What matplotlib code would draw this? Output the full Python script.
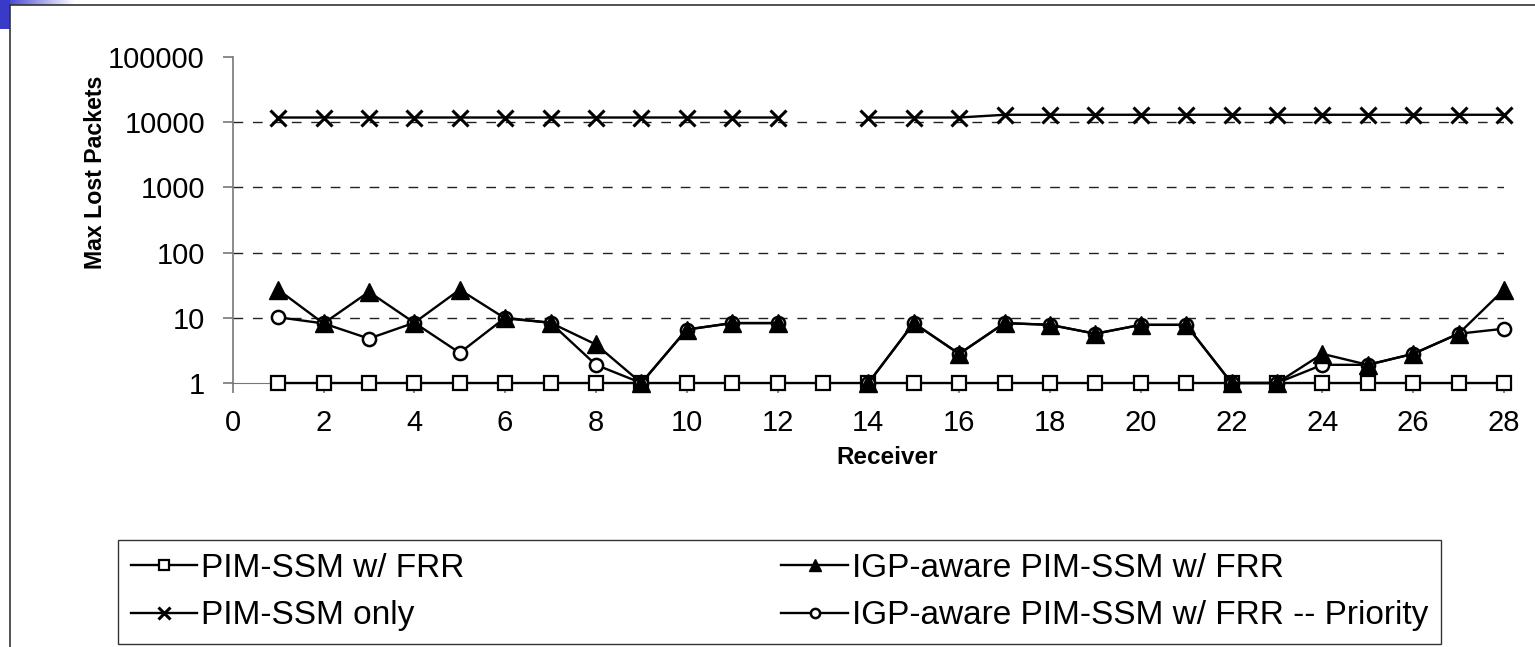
import numpy as np
import matplotlib.pyplot as plt
from matplotlib.patches import Rectangle
from matplotlib.colors import LinearSegmentedColormap

plt.rcParams['font.family'] = ['Liberation Sans', 'DejaVu Sans']

# data (receivers 1..28, 13 has no reading except FRR)
receivers = np.arange(1, 29)
nan = np.nan
pim_frr = [1] * 28
pim_only = [11800] * 12 + [nan] + [11800] * 3 + [13000] * 12
igp_frr = [27, 8.2, 25, 8.4, 27, 9.8, 8.4, 3.9, 1, 6.6, 8.3, 8.3, nan, 1,
           8.3, 2.8, 8.3, 7.8, 5.7, 7.8, 7.8, 1, 1, 2.8, 1.9, 2.8, 5.7, 27]
igp_prio = [10.2, 8.2, 4.8, 8.4, 2.9, 10, 8.4, 1.9, 1, 6.6, 8.3, 8.3, nan, 1,
            8.3, 2.8, 8.3, 7.8, 5.7, 7.8, 7.8, 1, 1, 1.9, 1.9, 2.8, 5.7, 6.8]
y_ticks = [1, 10, 100, 1000, 10000, 100000]
x_ticks = list(range(0, 29, 2))

W, H = 1535, 647
fig = plt.figure(figsize=(W / 100, H / 100), dpi=100)

# slide decoration: border and blue corner
fig.add_artist(plt.Line2D([10 / W, 10 / W], [0, 1 - 5 / H], transform=fig.transFigure, color='#333333', lw=1.2))
fig.add_artist(plt.Line2D([10 / W, 1], [1 - 5 / H, 1 - 5 / H], transform=fig.transFigure, color='#333333', lw=1.2))
grad = fig.add_axes([0, 1 - 5 / H, 75 / W, 5 / H])
grad.imshow(np.linspace(0, 1, 100)[None, :], cmap=LinearSegmentedColormap.from_list('g', ['#3333cc', '#ffffff']),
            aspect='auto')
grad.axis('off')
fig.add_artist(Rectangle((0, 1 - 29 / H), 10 / W, 29 / H, transform=fig.transFigure, color='#3a3ac8', lw=0))

ax = fig.add_axes([232.7 / W, (H - 383) / H, (1504 - 232.7) / W, (383 - 57) / H])

l1, = ax.plot(receivers, pim_frr, color='black', lw=1.7, marker='s', ms=10, mfc='white', mec='black', mew=1.6,
              label='PIM-SSM w/ FRR', zorder=3, clip_on=False)
l2, = ax.plot(receivers, pim_only, color='black', lw=1.7, marker='x', ms=12, mew=2.2,
              label='PIM-SSM only', zorder=3, clip_on=False)
l4, = ax.plot(receivers, igp_prio, color='black', lw=1.7, marker='o', ms=9.5, mfc='white', mec='black', mew=1.8,
              label='IGP-aware PIM-SSM w/ FRR -- Priority', zorder=3, clip_on=False)
l3, = ax.plot(receivers, igp_frr, color='black', lw=1.7, marker='^', ms=12.5,
              label='IGP-aware PIM-SSM w/ FRR', zorder=4, clip_on=False)

ax.set_yscale('log')
ax.set_ylim(1, 100000)
ax.set_xlim(0, 28)
ax.set_yticks(y_ticks)
ax.set_yticklabels([str(v) for v in y_ticks])
ax.minorticks_off()
ax.set_xticks(x_ticks)
ax.tick_params(axis='both', labelsize=21, color='#777777', length=7, width=1.2, direction='out')
ax.tick_params(axis='x', pad=12)
ax.tick_params(axis='y', pad=13)

for v in [10, 100, 1000, 10000]:
    ax.axhline(v, color='#222222', lw=1, ls=(0, (7, 7)), zorder=1)

for s in ['top', 'right']:
    ax.spines[s].set_visible(False)
ax.spines['left'].set_color('#777777')
ax.spines['bottom'].set_color('#777777')
ax.spines['left'].set_linewidth(1.2)

fig.text(887 / W, 1 - 457 / H, 'Receiver', fontsize=17.5, fontweight='bold', ha='center', va='center')
fig.text(95 / W, 1 - 172 / H, 'Max Lost Packets', fontsize=16.7, fontweight='bold', ha='center', va='center',
         rotation=90)

leg = fig.legend(handles=[l1, l2, l3, l4], loc='lower left', ncol=2,
                 bbox_to_anchor=(118 / W, 3 / H),
                 fontsize=24, frameon=True, fancybox=False, edgecolor='black', handlelength=2.0,
                 handletextpad=0.12, borderaxespad=0, labelspacing=0.5, borderpad=0.38, markerscale=0.7,
                 columnspacing=9.5)
leg.get_frame().set_linewidth(1.0)

fig.savefig('out.png', dpi=100)
